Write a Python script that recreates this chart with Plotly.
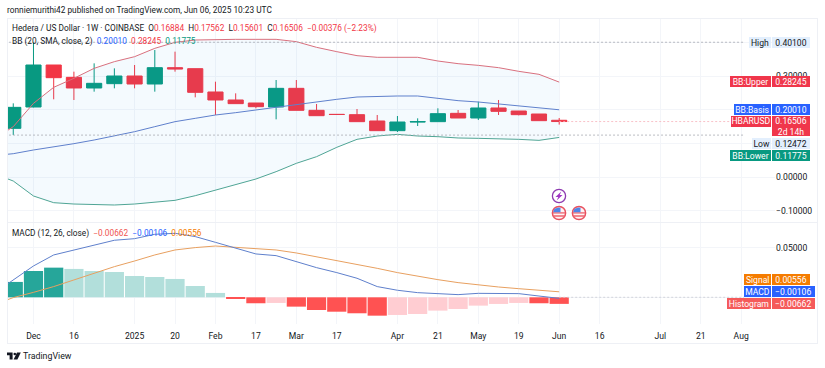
import plotly.graph_objects as go

W, H = 825, 368

weeks = ["2024-11-18","2024-11-25","2024-12-02","2024-12-09","2024-12-16","2024-12-23","2024-12-30",
         "2025-01-06","2025-01-13","2025-01-20","2025-01-27","2025-02-03","2025-02-10","2025-02-17",
         "2025-02-24","2025-03-03","2025-03-10","2025-03-17","2025-03-24","2025-03-31","2025-04-07",
         "2025-04-14","2025-04-21","2025-04-28","2025-05-05","2025-05-12","2025-05-19","2025-05-26","2025-06-02"]
candle_weeks = weeks[1:]

opens  = [.1448,.2083,.3333,.2966,.2649,.2778,.3006,.2768,.3254,.3224,.2530,.2292,.2202,.2083,.2639,.1984,.1865,.1855,.1667,.1379,.1637,.1647,.1895,.1756,.2054,.1964,.1875,.16884]
highs  = [.2192,.4010,.3333,.3135,.3383,.3234,.3333,.3780,.3730,.3224,.2837,.2490,.2202,.2887,.2887,.2173,.1870,.2024,.1845,.1815,.1746,.2044,.1994,.2242,.2292,.1964,.1875,.17562]
lows   = [.1250,.2073,.2312,.2292,.2540,.2639,.2639,.2540,.3135,.2371,.1845,.2183,.2044,.1716,.1984,.1825,.1855,.1647,.1379,.1339,.1518,.1647,.1756,.1696,.1845,.1835,.1677,.15601]
closes = [.2073,.3333,.2956,.2649,.2788,.3006,.2768,.3254,.3214,.2520,.2292,.2183,.2093,.2639,.1984,.1825,.1860,.1647,.1379,.1637,.1647,.1885,.1756,.2054,.1954,.1855,.1677,.16506]

bb_upper = [.1101,.1498,.2192,.2669,.2937,.3234,.3433,.3581,.3829,.4008,.4077,.4097,.4097,.4097,.4097,.4028,.3859,.3730,.3611,.3562,.3562,.3562,.3452,.3373,.3323,.3254,.3145,.3056,.28245]
bb_basis = [.0635,.0694,.0804,.0893,.0992,.1101,.1220,.1349,.1498,.1647,.1746,.1845,.1915,.1994,.2073,.2163,.2252,.2312,.2381,.2401,.2411,.2411,.2331,.2272,.2232,.2173,.2113,.2063,.20010]
bb_lower = [.0109,-.0119,-.0565,-.0764,-.0804,-.0823,-.0833,-.0804,-.0754,-.0694,-.0556,-.0387,-.0238,-.0060,.0159,.0407,.0605,.0883,.1121,.1220,.1270,.1220,.1200,.1161,.1151,.1141,.1121,.1091,.11775]

macd_line = [.0034,.0175,.0316,.0427,.0477,.0528,.0575,.0591,.0635,.0645,.0612,.0554,.0494,.0437,.0420,.0360,.0299,.0249,.0192,.0108,.0071,.0047,.0040,.0027,.0040,.0040,.0037,.0013,-.00106]
signal_line = [-.0077,-.0003,.0050,.0108,.0175,.0242,.0309,.0366,.0427,.0477,.0501,.0517,.0504,.0491,.0477,.0447,.0410,.0373,.0333,.0292,.0249,.0212,.0178,.0148,.0124,.0104,.0087,.0074,.00556]
histogram = [.0155,.0265,.0299,.0286,.0265,.0255,.0215,.0205,.0185,.0114,.0044,-.0017,-.0060,-.0057,-.0094,-.0128,-.0145,-.0161,-.0185,-.0178,-.0168,-.0134,-.0118,-.0084,-.0067,-.0057,-.0060,-.00662]
TS, TL, RS, RL = "#26a69a", "#b2dfdb", "#ff5252", "#ffcdd2"
hist_colors = [TS,TS,TS,TL,TL,TL,TL,TL,TL,TL,TL,RS,RS,RL,RS,RS,RS,RS,RS,RL,RL,RL,RL,RL,RL,RL,RS,RS]

tick_dates = ["2024-12-02","2024-12-16","2025-01-06","2025-01-20","2025-02-03","2025-02-17","2025-03-03","2025-03-17",
              "2025-04-07","2025-04-21","2025-05-05","2025-05-19","2025-06-02","2025-06-16","2025-07-07","2025-07-21","2025-08-04"]
tick_text = ["Dec","16","2025","20","Feb","17","Mar","17","Apr","21","May","19","Jun","16","Jul","21","Aug"]

HIGH, LOW, LAST = 0.40100, 0.12472, 0.16506
X_RANGE = ["2024-11-22 20:00", "2025-08-15 17:00"]

GRID = "#f3f5f9"
TXT = "#131722"
GREEN, RED, BLUE, ORANGE = "#089981", "#f23645", "#2962ff", "#f57c00"
FONT = "Roboto"

def px(x): return x / W
def py(y): return 1 - y / H

fig = go.Figure()
fig.add_trace(go.Scatter(x=weeks, y=bb_upper, mode="lines", line=dict(color="#d9707e", width=1), xaxis="x", yaxis="y", hoverinfo="skip"))
fig.add_trace(go.Scatter(x=weeks, y=bb_lower, mode="lines", line=dict(color="#4fa595", width=1), fill="tonexty",
                         fillcolor="rgba(33,150,243,0.05)", xaxis="x", yaxis="y", hoverinfo="skip"))
fig.add_trace(go.Scatter(x=weeks, y=bb_basis, mode="lines", line=dict(color="#5f80cc", width=1), xaxis="x", yaxis="y", hoverinfo="skip"))
fig.add_trace(go.Scatter(x=[weeks[0], "2025-08-05"], y=[HIGH, HIGH], mode="lines", line=dict(color="#a8abb3", width=0.8, dash="2px,2px"), xaxis="x", yaxis="y", hoverinfo="skip"))
fig.add_trace(go.Scatter(x=[weeks[0], "2025-08-05"], y=[LOW, LOW], mode="lines", line=dict(color="#a8abb3", width=0.8, dash="2px,2px"), xaxis="x", yaxis="y", hoverinfo="skip"))
fig.add_trace(go.Scatter(x=[weeks[-1], "2025-08-05"], y=[LAST, LAST], mode="lines", line=dict(color="#f7b3ba", width=0.8, dash="2px,2px"), xaxis="x", yaxis="y", hoverinfo="skip"))
fig.add_trace(go.Candlestick(x=candle_weeks, open=opens, high=highs, low=lows, close=closes, xaxis="x", yaxis="y",
                             increasing=dict(line=dict(color=GREEN, width=1), fillcolor=GREEN),
                             decreasing=dict(line=dict(color=RED, width=1), fillcolor=RED), whiskerwidth=0))

fig.add_trace(go.Bar(x=candle_weeks, y=histogram, marker=dict(color=hist_colors, line=dict(width=0)), xaxis="x2", yaxis="y2", hoverinfo="skip"))
fig.add_trace(go.Scatter(x=[weeks[-1], "2025-08-05"], y=[0, 0], mode="lines", line=dict(color="#c9ccd3", width=0.8, dash="2px,2px"), xaxis="x2", yaxis="y2", hoverinfo="skip"))
fig.add_trace(go.Scatter(x=weeks, y=signal_line, mode="lines", line=dict(color="#e8a060", width=1), xaxis="x2", yaxis="y2", hoverinfo="skip"))
fig.add_trace(go.Scatter(x=weeks, y=macd_line, mode="lines", line=dict(color="#5f80cc", width=1), xaxis="x2", yaxis="y2", hoverinfo="skip"))

annotations = []
def text(x, y, s, size=8.3, color=TXT, family=FONT):
    annotations.append(dict(xref="paper", yref="paper", x=px(x), y=py(y), text=s, showarrow=False, xanchor="left", yanchor="middle",
                            font=dict(family=family, size=size, color=color), borderpad=0, borderwidth=0))

def box(x0, x1, y0, y1, s, bg, color="white", size=8.6):
    annotations.append(dict(xref="paper", yref="paper", x=px(x0), y=py((y0 + y1) / 2), text=s, showarrow=False, xanchor="left", yanchor="middle",
                            width=x1 - x0, height=y1 - y0, bgcolor=bg, align="center", valign="middle", borderpad=0, borderwidth=0,
                            font=dict(family=FONT, size=size, color=color)))

def tag(x0, y0, y1, name, value, bg, color="white", xv=810, yv1=None):
    box(x0, 771, y0, y1 - 0.6, name, bg, color)
    box(772, xv, y0, (yv1 or y1) - 0.6, value, bg, color)

def c(s, col): return f'<span style="color:{col}">{s}</span>'

text(7, 10, "ronniemurithi42 published on TradingView.com, Jun 06, 2025 10:23 UTC")
text(12, 29, "Hedera / US Dollar · 1W · COINBASE  O" + c("0.16884", RED) + "  H" + c("0.17562", RED) + "  L" + c("0.15601", RED) + "  C" + c("0.16506", RED) + "  " + c("−0.00376 (−2.23%)", RED))
text(12, 41, "BB (20, SMA, close, 2)  " + c("0.20010", BLUE) + "  " + c("0.28245", RED) + "  " + c("0.11775", GREEN))
text(12, 233, "MACD (12, 26, close)  " + c("−0.00662", "#ef5350") + "  " + c("−0.00106", BLUE) + "  " + c("0.00556", ORANGE))
text(23, 356, "TradingView", 8.8, "#131722")

LIGHT = "#e3effd"
tag(749, 36.7, 48.3, "High", "0.40100", LIGHT, TXT)
tag(730, 76, 88, "BB:Upper", "0.28245", "#f0364b")
tag(734.3, 104, 116, "BB:Basis", "0.20010", BLUE)
tag(731, 116, 127.5, "HBARUSD", "0.16506<br>2d 14h", "#f0364b", yv1=137)
tag(751.7, 137.5, 149.5, "Low", "0.12472", LIGHT, TXT)
tag(730, 149.5, 161.3, "BB:Lower", "0.11775", GREEN)
tag(743.7, 274, 286, "Signal", "0.00556", ORANGE)
tag(744, 286, 297.7, "MACD", "−0.00106", BLUE, xv=814.5)
tag(727.3, 297.7, 309.7, "Histogram", "−0.00662", "#f55a5a", xv=814.5)

shapes = []
def pline(x0, y0, x1, y1, color="#eef0f5", w=1):
    shapes.append(dict(type="line", xref="paper", yref="paper", x0=px(x0), x1=px(x1), y0=py(y0), y1=py(y1), line=dict(color=color, width=w)))
def ppath(points, fill):
    d = "M" + " L".join(f"{px(a):.5f},{py(b):.5f}" for a, b in points) + " Z"
    shapes.append(dict(type="path", xref="paper", yref="paper", path=d, fillcolor=fill, line=dict(width=0)))
def pcircle(cx, cy, r, fill, stroke, w=1):
    shapes.append(dict(type="circle", xref="paper", yref="paper", x0=px(cx - r), x1=px(cx + r), y0=py(cy - r), y1=py(cy + r),
                       fillcolor=fill, line=dict(color=stroke, width=w)))

pline(7, 18.5, 818, 18.5); pline(7, 343.5, 818, 343.5); pline(7.5, 18, 7.5, 343); pline(817.5, 18, 817.5, 343); pline(7, 222.5, 817, 222.5)

# TradingView logo
ppath([(7, 352.5), (12.6, 352.5), (12.6, 359.5), (9.6, 359.5), (9.6, 355.2), (7, 355.2)], "#131722")
pcircle(14.8, 354, 1.3, "#131722", "#131722", 0)
ppath([(17, 352.5), (20.8, 352.5), (17.4, 359.5), (13.6, 359.5)], "#131722")

# event icons
pcircle(559, 196, 6.6, "white", "#8e3bb0", 1.3)
ppath([(561.3, 191.5), (555.5, 197), (558.3, 197), (556.7, 200.5), (562.5, 195), (559.7, 195)], "#a033c4")
for cx in (559, 579):
    pcircle(cx, 213, 6.6, "#fdf2f3", "#e8515f", 1.5)
    ppath([(cx - 6, 212.2), (cx + 6, 212.2), (cx + 6, 213.6), (cx - 6, 213.6)], "#ef6a76")
    ppath([(cx - 5.5, 215.2), (cx + 5.5, 215.2), (cx + 5.5, 216.8), (cx - 5.5, 216.8)], "#ef6a76")
    ppath([(cx - 4.5, 208.7), (cx - 0.5, 207.6), (cx + 1.5, 207.8), (cx + 1.5, 212.2), (cx - 6, 212.2)], "#4f86e8")

axis_common = dict(range=X_RANGE, tickvals=tick_dates, showgrid=True, gridcolor=GRID, gridwidth=1, zeroline=False,
                   showline=False, ticks="", type="date", rangeslider=dict(visible=False))
yaxis_common = dict(side="right", showgrid=True, gridcolor=GRID, gridwidth=1, zeroline=False, showline=False, ticks="",
                    tickfont=dict(family=FONT, size=8.6, color=TXT), tickformat=".5f")

fig.update_layout(
    width=W, height=H, margin=dict(l=0, r=0, t=0, b=0), autosize=False, showlegend=False,
    paper_bgcolor="white", plot_bgcolor="white", bargap=0.05, boxgap=0.25, boxgroupgap=0, dragmode=False,
    xaxis=dict(domain=[px(7), px(775)], anchor="y", showticklabels=False, ticktext=tick_text, **axis_common),
    xaxis2=dict(domain=[px(7), px(775)], anchor="y2", showticklabels=True, ticktext=tick_text, ticklabelstandoff=5,
                tickfont=dict(family=FONT, size=8.6, color=TXT), **axis_common),
    yaxis=dict(domain=[py(222), py(18)], anchor="x", range=[-0.1339, 0.4732], tickvals=[-0.1, 0, 0.1, 0.2, 0.3, 0.4],
               ticktext=["−0.10000", "0.00000", "", "", "0.30000", ""], **yaxis_common),
    yaxis2=dict(domain=[py(324), py(222)], anchor="x2", range=[-0.0269, 0.0759], tickvals=[0, 0.05],
                ticktext=["", "0.05000"], **yaxis_common),
    annotations=annotations, shapes=shapes,
)
fig.write_html("out.html", post_script="document.body.style.margin='0';", config=dict(displayModeBar=False))
